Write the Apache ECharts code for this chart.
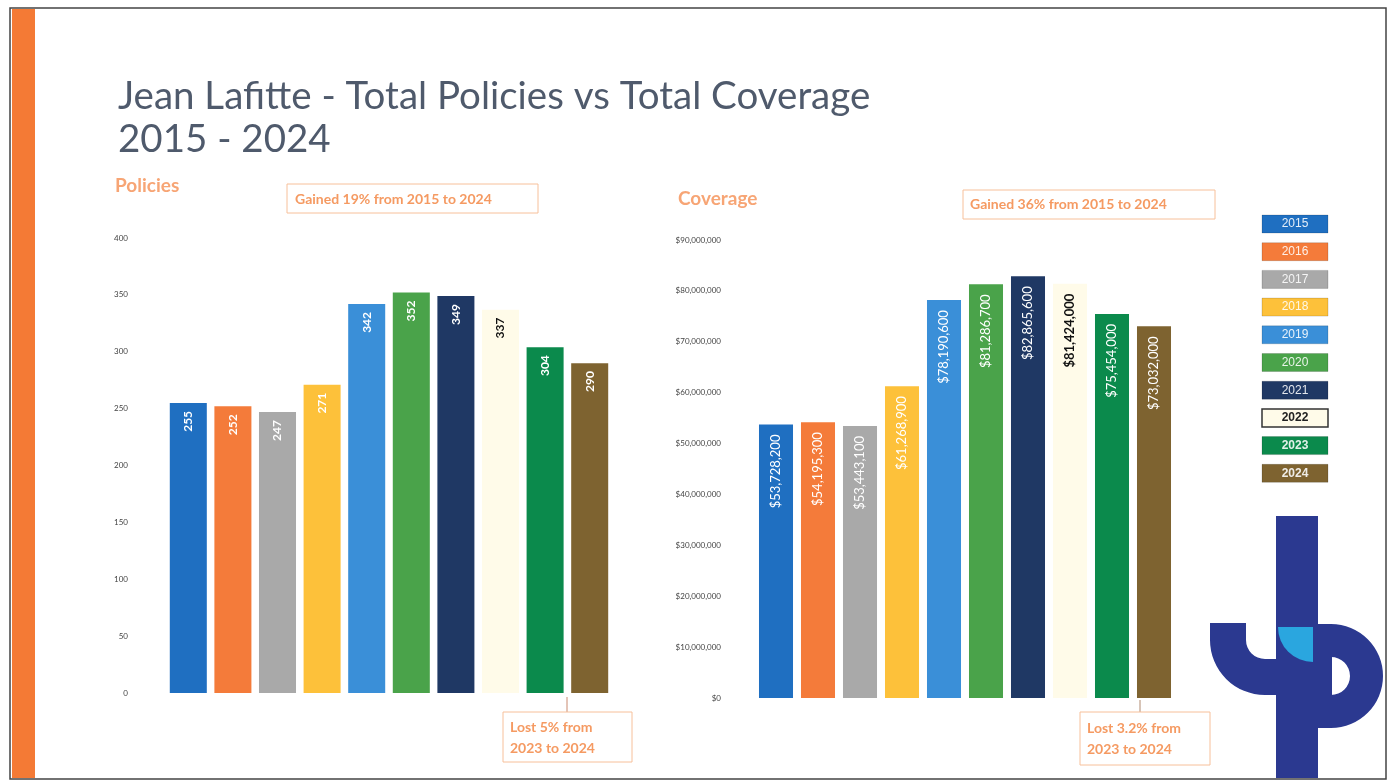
<!DOCTYPE html>
<html><head><meta charset="utf-8">
<script src="https://cdn.jsdelivr.net/npm/echarts@6/dist/echarts.min.js"></script>
<style>html,body{margin:0;padding:0;background:#fff}#c{width:1392px;height:782px}</style>
</head><body><div id="c"></div>
<script>
const years = ['2015','2016','2017','2018','2019','2020','2021','2022','2023','2024'];
const policies = [255, 252, 247, 271, 342, 352, 349, 337, 304, 290];
const coverage = [53728200, 54195300, 53443100, 61268900, 78190600, 81286700, 82865600, 81424000, 75454000, 73032000];
const policyTicks = [0, 400, 50];
const coverageTicks = [0, 90000000, 10000000];

const colors = ['#1f6fc1','#f47b3a','#a9a9a9','#fdc13a','#3a8fd8','#4aa34a','#1f3864','#fffbe9','#0b8a4c','#7e6330'];
const labelColors = ['#fff','#fff','#fff','#fff','#fff','#fff','#fff','#111','#fff','#fff'];
const FONT = 'Lato, "Open Sans", sans-serif';
const ORANGE = '#f59a62';

function money(v){ return '$' + v.toLocaleString('en-US'); }

const chart = echarts.init(document.getElementById('c'), null, {renderer:'canvas'});

const legendGraphics = [];
years.forEach((y,i)=>{
  const top = 215 + i*27.7;
  legendGraphics.push({
    type:'rect', shape:{x:1262,y:top,width:66,height:18},
    style:{fill:colors[i], stroke: i===7 ? '#333' : 'rgba(0,0,0,0.15)', lineWidth: i===7?1.5:1}
  });
  legendGraphics.push({
    type:'text', x:1295, y:top+9,
    style:{text:y, fill: i===7 ? '#222' : 'rgba(255,255,255,0.88)', font:'14px ' + FONT, align:'center', verticalAlign:'middle', fontWeight: (i>=7)?'bold':'normal'}
  });
});

const logo = '#2b3990';
const graphics = [
  // frame
  {type:'rect', shape:{x:10,y:8,width:1376,height:771}, style:{fill:'none', stroke:'#444', lineWidth:1.5}},
  {type:'rect', shape:{x:12,y:9,width:23,height:769}, style:{fill:'#f47a35'}},
  // title
  {type:'text', x:118, y:97, style:{text:'Jean Lafitte - Total Policies vs Total Coverage', font:'38.5px ' + FONT, fill:'#4f5a6c', verticalAlign:'middle'}},
  {type:'text', x:118, y:140, style:{text:'2015 - 2024', font:'38.5px ' + FONT, fill:'#4f5a6c', verticalAlign:'middle'}},
  {type:'text', x:115, y:186, style:{text:'Policies', font:'bold 19px ' + FONT, fill:'#f7a575', verticalAlign:'middle'}},
  {type:'text', x:678, y:199, style:{text:'Coverage', font:'bold 19px ' + FONT, fill:'#f7a575', verticalAlign:'middle'}},
  // annotations
  {type:'rect', shape:{x:287,y:184,width:251,height:29}, style:{fill:'#fff', stroke:'#f7c09a', lineWidth:1}},
  {type:'text', x:295, y:199, style:{text:'Gained 19% from 2015 to 2024', font:'bold 14px ' + FONT, fill:ORANGE, verticalAlign:'middle'}},
  {type:'rect', shape:{x:963,y:190,width:252,height:29}, style:{fill:'#fff', stroke:'#f7c09a', lineWidth:1}},
  {type:'text', x:970, y:204, style:{text:'Gained 36% from 2015 to 2024', font:'bold 14px ' + FONT, fill:ORANGE, verticalAlign:'middle'}},
  {type:'line', shape:{x1:567,y1:697,x2:567,y2:712}, style:{stroke:'#c98a70', lineWidth:1}},
  {type:'rect', shape:{x:503,y:712,width:129,height:50}, style:{fill:'#fff', stroke:'#f7c09a', lineWidth:1}},
  {type:'text', x:510, y:727, style:{text:'Lost 5% from', font:'bold 14px ' + FONT, fill:ORANGE, verticalAlign:'middle'}},
  {type:'text', x:510, y:748, style:{text:'2023 to 2024', font:'bold 14px ' + FONT, fill:ORANGE, verticalAlign:'middle'}},
  {type:'line', shape:{x1:1140,y1:700,x2:1140,y2:712}, style:{stroke:'#b08a70', lineWidth:1}},
  {type:'rect', shape:{x:1080,y:712,width:130,height:53}, style:{fill:'#fff', stroke:'#f7c09a', lineWidth:1}},
  {type:'text', x:1087, y:728, style:{text:'Lost 3.2% from', font:'bold 14px ' + FONT, fill:ORANGE, verticalAlign:'middle'}},
  {type:'text', x:1087, y:749, style:{text:'2023 to 2024', font:'bold 14px ' + FONT, fill:ORANGE, verticalAlign:'middle'}},
  // logo
  {type:'rect', shape:{x:1210,y:623,width:36,height:18}, style:{fill:logo}},
  {type:'sector', shape:{cx:1265,cy:640,r:55,r0:19,startAngle:Math.PI/2,endAngle:Math.PI}, style:{fill:logo}},
  {type:'rect', shape:{x:1264,y:659,width:14,height:36}, style:{fill:logo}},
  {type:'rect', shape:{x:1318,y:624,width:14,height:104}, style:{fill:logo}},
  {type:'sector', shape:{cx:1331,cy:676,r:52,r0:19,startAngle:-Math.PI/2,endAngle:Math.PI/2}, style:{fill:logo}},
  {type:'rect', shape:{x:1276,y:516,width:42,height:262}, style:{fill:logo}},
  {type:'sector', shape:{cx:1313,cy:627,r:35,r0:0,startAngle:Math.PI/2,endAngle:Math.PI}, style:{fill:'#2aa6df'}}
].concat(legendGraphics);

function barData(vals, boldAll){
  return vals.map((v,i)=>({value:v, itemStyle:{color:colors[i]}, label:{color:labelColors[i], fontWeight: (i===7 || boldAll)?'bold':'normal'}}));
}

chart.setOption({
  animation:false,
  textStyle:{fontFamily:FONT},
  grid:[
    {left:166, top:238, width:446, height:455},
    {left:755, top:240, width:420, height:458}
  ],
  xAxis:[
    {type:'category', gridIndex:0, data:years, show:false},
    {type:'category', gridIndex:1, data:years, show:false}
  ],
  yAxis:[
    {type:'value', gridIndex:0, min:policyTicks[0], max:policyTicks[1], interval:policyTicks[2],
     axisLine:{show:false}, axisTick:{show:false}, splitLine:{show:false},
     axisLabel:{fontSize:8, color:'#444', margin:38, fontFamily:FONT}},
    {type:'value', gridIndex:1, min:coverageTicks[0], max:coverageTicks[1], interval:coverageTicks[2],
     axisLine:{show:false}, axisTick:{show:false}, splitLine:{show:false},
     axisLabel:{fontSize:8, color:'#444', margin:34, fontFamily:FONT, formatter:v=>money(v)}}
  ],
  series:[
    {type:'bar', xAxisIndex:0, yAxisIndex:0, data:barData(policies, true), barCategoryGap:'17%',
     label:{show:true, position:'insideTop', rotate:90, align:'right', verticalAlign:'middle', distance:8, fontSize:12, fontFamily:FONT}},
    {type:'bar', xAxisIndex:1, yAxisIndex:1, data:barData(coverage, false), barCategoryGap:'19%',
     label:{show:true, position:'insideTop', rotate:90, align:'right', verticalAlign:'middle', distance:10, fontSize:13, fontFamily:FONT, formatter:p=>money(p.value)}}
  ],
  graphic:graphics
});
</script></body></html>
